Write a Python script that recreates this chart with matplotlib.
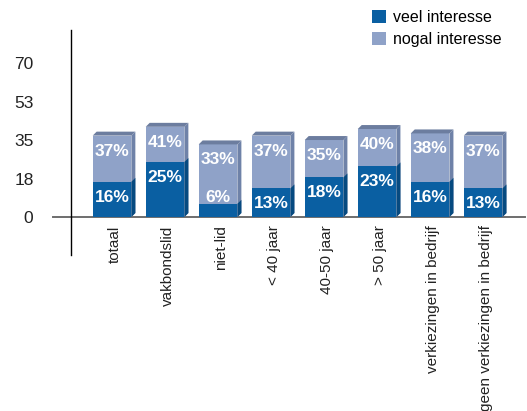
import matplotlib.pyplot as plt
from matplotlib.patches import Polygon, Patch

categories = ["totaal", "vakbondslid", "niet-lid", "< 40 jaar", "40-50 jaar",
              "> 50 jaar", "verkiezingen in bedrijf", "geen verkiezingen in bedrijf"]
veel = [16, 25, 6, 13, 18, 23, 16, 13]
nogal = [37, 41, 33, 37, 35, 40, 38, 37]
yticks = [0, 17.5, 35, 52.5, 70]
ytick_labels = ["0", "18", "35", "53", "70"]

dark = "#0a5fa2"
dark_side = "#064a80"
light = "#8fa2c8"
light_side = "#6f82a8"
light_top = "#6c7d9f"

fig = plt.figure(figsize=(5.27, 4.11), dpi=100)
ax = fig.add_axes([71 / 527, 156 / 411, 454 / 527, 225 / 411])
ax.set_xlim(-0.774, 7.79)
ax.set_ylim(-17.27, 85)

w = 0.73      # front face width
dx = 0.075    # depth offset, x
dy = 1.8      # depth offset, y


def box(x, h, front, side, top=None):
    x0, x1 = x - w / 2, x + w / 2
    ax.add_patch(Polygon([(x0, 0), (x1, 0), (x1, h), (x0, h)],
                         closed=True, fc=front, ec="none", zorder=3))
    ax.add_patch(Polygon([(x1, 0), (x1 + dx, dy), (x1 + dx, h + dy), (x1, h)],
                         closed=True, fc=side, ec="none", zorder=3))
    if top is not None:
        ax.add_patch(Polygon([(x0, h), (x1, h), (x1 + dx, h + dy), (x0 + dx, h + dy)],
                             closed=True, fc=top, ec="none", zorder=3))


for i, cat in enumerate(categories):
    box(i, nogal[i], light, light_side, light_top)
    box(i, veel[i], dark, dark_side)
    ax.text(i, nogal[i] - 7, f"{nogal[i]}%", ha="center", va="center", color="white",
            fontsize=12.5, fontweight="bold", family="Liberation Sans", zorder=4)
    vy = veel[i] - 7 if veel[i] >= 10 else veel[i] + 3
    ax.text(i, vy, f"{veel[i]}%", ha="center", va="center", color="white",
            fontsize=12.5, fontweight="bold", family="Liberation Sans", zorder=4)

# baseline
ax.plot([-1.114, 7.79], [0, 0], color="#6e6e6e", lw=1.4, clip_on=False, zorder=2)

for s in ["top", "right", "bottom"]:
    ax.spines[s].set_visible(False)
ax.spines["left"].set_color("black")
ax.spines["left"].set_linewidth(1.0)

ax.set_yticks(yticks)
ax.set_yticklabels(ytick_labels, family="Liberation Sans", fontsize=12.5, color="#222222")
ax.tick_params(axis="y", length=0, pad=27)
ax.set_xticks([])

for i, cat in enumerate(categories):
    ax.annotate(cat, xy=(i + 0.05, 0), xycoords="data", xytext=(0, -6),
                textcoords="offset points", rotation=90, ha="center", va="top",
                family="Liberation Sans", fontsize=11, color="#222222",
                annotation_clip=False)

handles = [Patch(fc=dark, ec="none"), Patch(fc=light, ec="none")]
fig.legend(handles, ["veel interesse", "nogal interesse"], loc="upper left",
           bbox_to_anchor=(372 / 527, 1 - 10 / 411), frameon=False,
           prop={"family": "Liberation Sans", "size": 11.5},
           handlelength=0.85, handleheight=0.85, handletextpad=0.45,
           labelspacing=0.45, borderpad=0, borderaxespad=0)

fig.savefig("out.png", dpi=100)
